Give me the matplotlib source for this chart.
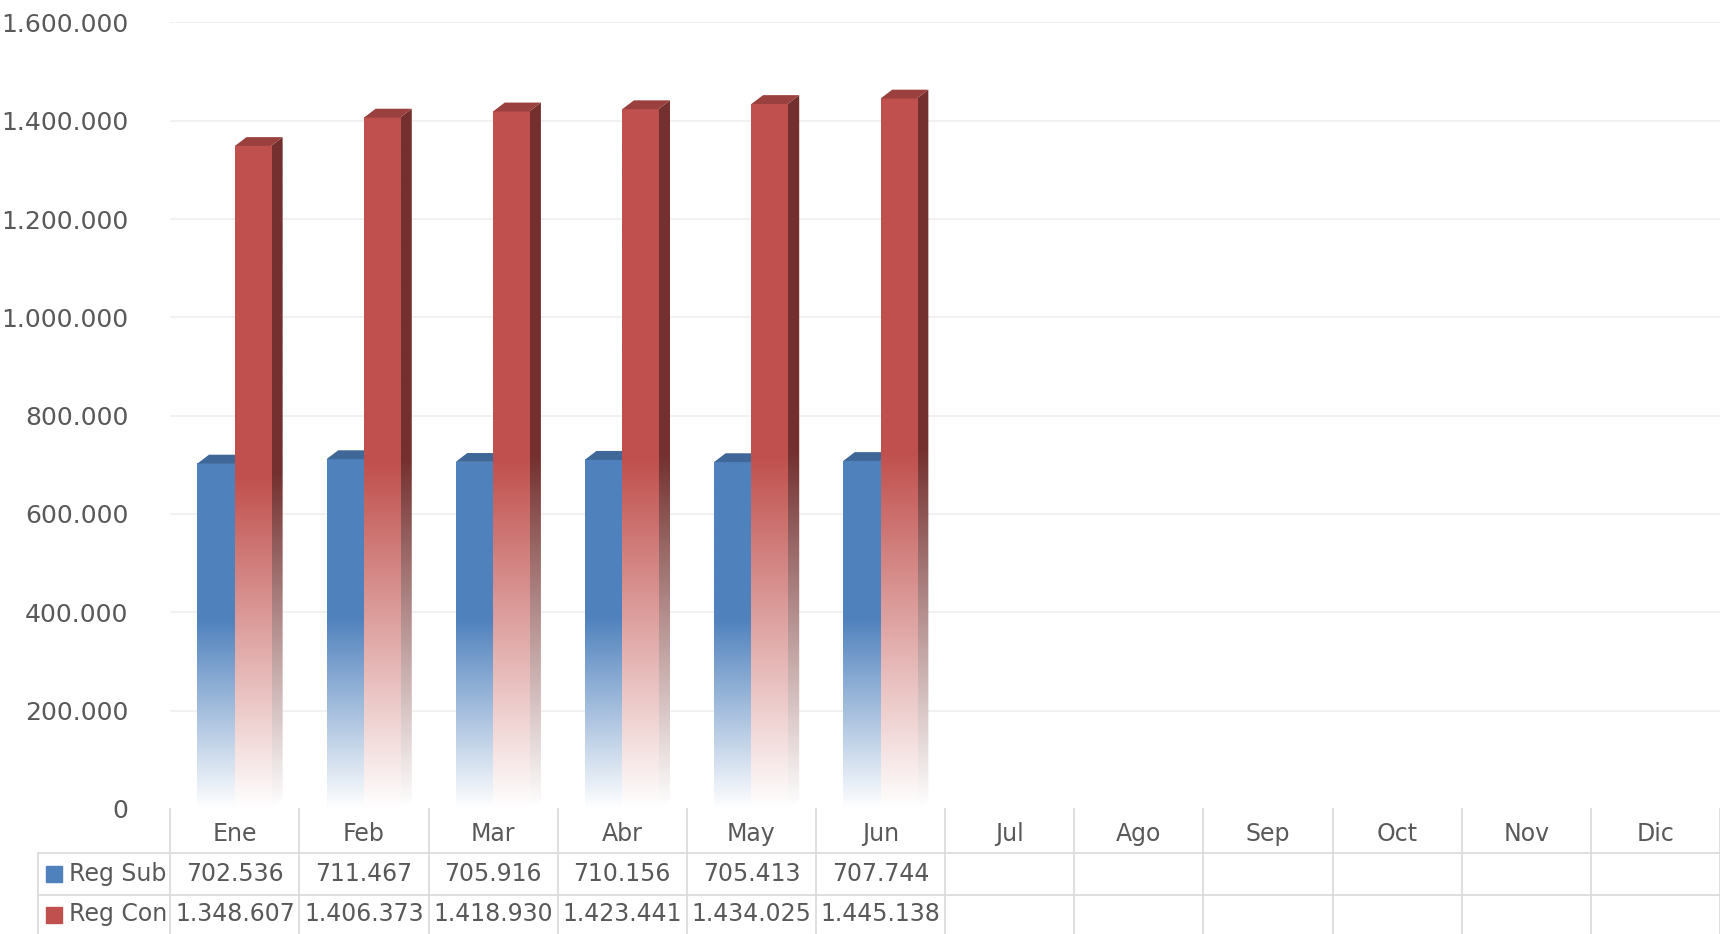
import numpy as np
import matplotlib.pyplot as plt
from matplotlib.colors import LinearSegmentedColormap, to_rgb
from matplotlib.patches import Polygon
import matplotlib.transforms as mtransforms

months = ["Ene", "Feb", "Mar", "Abr", "May", "Jun", "Jul", "Ago", "Sep", "Oct", "Nov", "Dic"]
reg_sub = [702536, 711467, 705916, 710156, 705413, 707744]
reg_con = [1348607, 1406373, 1418930, 1423441, 1434025, 1445138]
series_names = ["Reg Sub", "Reg Con"]
colors = ["#4F81BD", "#C0504D"]
yticks = np.arange(0, 1600001, 200000)


def fmt(v):
    return f"{v:,}".replace(",", ".")


def shade(c, f):
    r, g, b = to_rgb(c)
    return (r * f, g * f, b * f)


fig = plt.figure(figsize=(17.2, 9.34), dpi=100)
ax = fig.add_axes([0.099, 0.134, 0.901, 0.842])
ax.set_xlim(-0.5, 11.5)
ax.set_ylim(0, 1600000)
for s in ax.spines.values():
    s.set_visible(False)
ax.set_xticks([])
ax.set_yticks(yticks)
ax.set_yticklabels([fmt(v) for v in yticks], fontsize=18, color="#595959")
ax.tick_params(axis="y", length=0, pad=30)
for v in yticks[1:]:
    ax.axhline(v, color="#EFEFEF", lw=1.2, zorder=0)

dx, dy = 0.09, 18000
for si, (vals, col, x0) in enumerate([(reg_sub, colors[0], -0.29), (reg_con, colors[1], 0.0)]):
    solid = 0.45 if si == 0 else 0.5
    cmap = LinearSegmentedColormap.from_list("g", [(0, "#FFFFFF"), (1 - solid, col), (1, col)])
    side_cmap = LinearSegmentedColormap.from_list("gs", [(0, "#FFFFFF"), (1 - solid, shade(col, 0.6)), (1, shade(col, 0.6))])
    w = 0.29 if si == 0 else 0.28
    for i, v in enumerate(vals):
        grad = np.linspace(0, 1, 256)[:, None]
        xl = i + x0
        ax.imshow(grad, cmap=side_cmap, origin="lower", aspect="auto",
                  extent=[xl + w, xl + w + dx, 0, v + dy], zorder=2 + si * 3)
        side = Polygon([(xl + w, 0), (xl + w + dx, dy), (xl + w + dx, v + dy), (xl + w, v)], closed=True,
                       facecolor="none", edgecolor="none")
        ax.add_patch(side)
        ax.images[-1].set_clip_path(side)
        ax.imshow(grad, cmap=cmap, origin="lower", aspect="auto",
                  extent=[xl, xl + w, 0, v], zorder=3 + si * 3)
        ax.add_patch(Polygon([(xl, v), (xl + dx, v + dy), (xl + w + dx, v + dy), (xl + w, v)],
                             closed=True, facecolor=shade(col, 0.8), edgecolor="none", zorder=4 + si * 3))
ax.set_xlim(-0.5, 11.5)
ax.set_ylim(0, 1600000)

# data table below the plot
tr = mtransforms.blended_transform_factory(ax.transData, fig.transFigure)
y_top, y_r1, y_r2, y_bot = 0.134, 0.087, 0.042, 0.0
kw = dict(color="#D9D9D9", lw=1.2, clip_on=False)
for k in range(13):
    ax.plot([k - 0.5, k - 0.5], [y_top, y_bot], transform=tr, **kw)
fx0 = 0.022
for yy in (y_r1, y_r2):
    fig.add_artist(plt.Line2D([fx0, 1.0], [yy, yy], **kw))
fig.add_artist(plt.Line2D([fx0, fx0], [y_r1, y_bot], **kw))
for k, m in enumerate(months):
    ax.text(k, (y_top + y_r1) / 2 - 0.003, m, transform=tr, ha="center", va="center", fontsize=17, color="#595959")
for vals, yy in ((reg_sub, (y_r1 + y_r2) / 2), (reg_con, (y_r2 + y_bot) / 2)):
    for k, v in enumerate(vals):
        ax.text(k, yy, fmt(v), transform=tr, ha="center", va="center", fontsize=17, color="#595959")
for name, col, yy in zip(series_names, colors, ((y_r1 + y_r2) / 2, (y_r2 + y_bot) / 2)):
    fig.add_artist(plt.Rectangle((0.027, yy - 0.009), 0.009, 0.017, color=col))
    fig.text(0.04, yy, name, ha="left", va="center", fontsize=17, color="#595959")

fig.savefig("out.png", dpi=100, facecolor="white")
